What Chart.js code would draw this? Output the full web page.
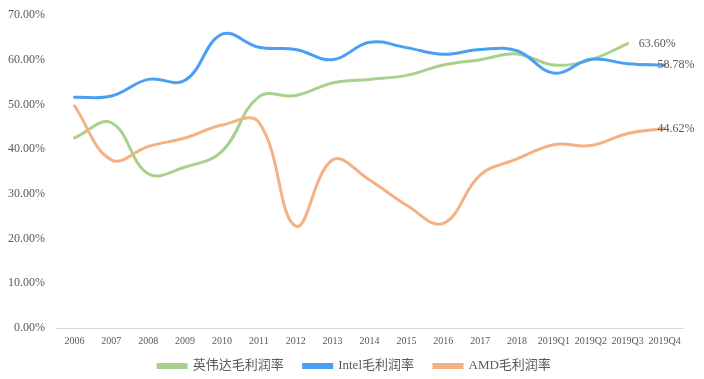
<!DOCTYPE html>
<html>
<head>
<meta charset="utf-8">
<script src="https://cdn.jsdelivr.net/npm/chart.js@4.4.1/dist/chart.umd.min.js"></script>
<style>
  html, body { margin: 0; padding: 0; background: #fff; }
  #wrap { width: 704px; height: 379px; }
</style>
</head>
<body>
<div id="wrap"><canvas id="chart" width="704" height="379"></canvas></div>
<script>
// categories and margins (%)
const categories = ['2006', '2007', '2008', '2009', '2010', '2011', '2012', '2013', '2014',
  '2015', '2016', '2017', '2018', '2019Q1', '2019Q2', '2019Q3', '2019Q4'];
const nvidiaMargin = [42.5, 45.9, 34.5, 36.0, 39.5, 51.7, 52.0, 54.8, 55.6, 56.5, 58.8, 60.0, 61.3, 58.8, 60.0, 63.6, null];
const intelMargin = [51.6, 51.9, 55.6, 55.4, 65.7, 62.8, 62.3, 60.0, 63.9, 62.7, 61.2, 62.3, 62.0, 57.0, 60.1, 59.1, 58.78];
const amdMargin = [49.7, 37.6, 40.6, 42.5, 45.4, 46.0, 22.8, 37.6, 33.1, 27.5, 23.4, 34.2, 37.8, 41.0, 40.8, 43.5, 44.62];
const seriesNames = ['英伟达毛利润率', 'Intel毛利润率', 'AMD毛利润率'];

const textColor = '#595959';
const fontFamily = "'Liberation Serif', 'Noto Sans CJK SC', serif";
const legendHeight = 32;
const xAxisHeight = 19;

// value label at the end of each line
const endLabels = {
  id: 'endLabels',
  afterDatasetsDraw(chart, args, opts) {
    const ctx = chart.ctx;
    ctx.save();
    ctx.font = '12px ' + fontFamily;
    ctx.fillStyle = textColor;
    ctx.textBaseline = 'middle';
    ctx.textAlign = 'left';
    chart.data.datasets.forEach((ds, i) => {
      let last = ds.data.length - 1;
      while (last >= 0 && ds.data[last] == null) last--;
      if (last < 0) return;
      const pt = chart.getDatasetMeta(i).data[last];
      const dx = opts.offsets[i] || 0;
      ctx.fillText(ds.data[last].toFixed(2) + '%', pt.x + dx, pt.y);
    });
    ctx.restore();
  }
};

// keep the legend short so the plot reaches down to the axis line, then nudge it
const legendFit = {
  id: 'legendFit',
  afterInit(chart, args, opts) {
    const lg = chart.legend;
    if (!lg) return;
    const fit = lg.fit.bind(lg);
    lg.fit = function() { fit(); this.height = opts.height; };
  },
  afterLayout(chart, args, opts) {
    const lg = chart.legend;
    if (!lg) return;
    lg.top += opts.dy; lg.bottom += opts.dy;
    lg.left += opts.dx; lg.right += opts.dx;
  }
};

new Chart(document.getElementById('chart'), {
  type: 'line',
  data: {
    labels: categories,
    datasets: [{
      label: seriesNames[0],
      data: nvidiaMargin,
      borderColor: '#a9d18e',
      backgroundColor: '#a9d18e',
      order: 3
    }, {
      label: seriesNames[1],
      data: intelMargin,
      borderColor: '#4a9ff5',
      backgroundColor: '#4a9ff5',
      order: 2
    }, {
      label: seriesNames[2],
      data: amdMargin,
      borderColor: '#f4b183',
      backgroundColor: '#f4b183',
      order: 1
    }]
  },
  options: {
    responsive: false,
    animation: false,
    spanGaps: false,
    elements: {
      line: { borderWidth: 3, tension: 0.4, borderCapStyle: 'round' },
      point: { radius: 0, hoverRadius: 0 }
    },
    layout: { padding: { top: 15, right: 21, left: 0, bottom: 0 } },
    plugins: {
      legend: {
        position: 'bottom',
        labels: {
          color: textColor,
          font: { family: fontFamily, size: 13 },
          boxWidth: 28,
          boxHeight: 3,
          padding: 20,
          sort: (a, b) => a.datasetIndex - b.datasetIndex
        }
      },
      legendFit: { height: legendHeight, dy: -7.5, dx: 13 },
      tooltip: { enabled: false },
      endLabels: { offsets: [11, -7, -7] }
    },
    scales: {
      x: {
        offset: true,
        grid: { display: false, drawTicks: false, offset: true },
        border: { color: '#d9d9d9', width: 1 },
        ticks: {
          color: textColor,
          font: { family: fontFamily, size: 10 },
          maxRotation: 0,
          autoSkip: false,
          padding: 7
        },
        afterFit: scale => { scale.height = xAxisHeight; }
      },
      y: {
        min: 0,
        max: 70,
        grid: { display: false, drawTicks: false },
        border: { display: false },
        ticks: {
          stepSize: 10,
          color: textColor,
          font: { family: fontFamily, size: 12 },
          padding: 11,
          callback: v => v.toFixed(2) + '%'
        },
        afterFit: scale => {
          scale.width = 56;
          scale.paddingTop = 0;
          scale.paddingBottom = 0;
        }
      }
    }
  },
  plugins: [endLabels, legendFit]
});
</script>
</body>
</html>
